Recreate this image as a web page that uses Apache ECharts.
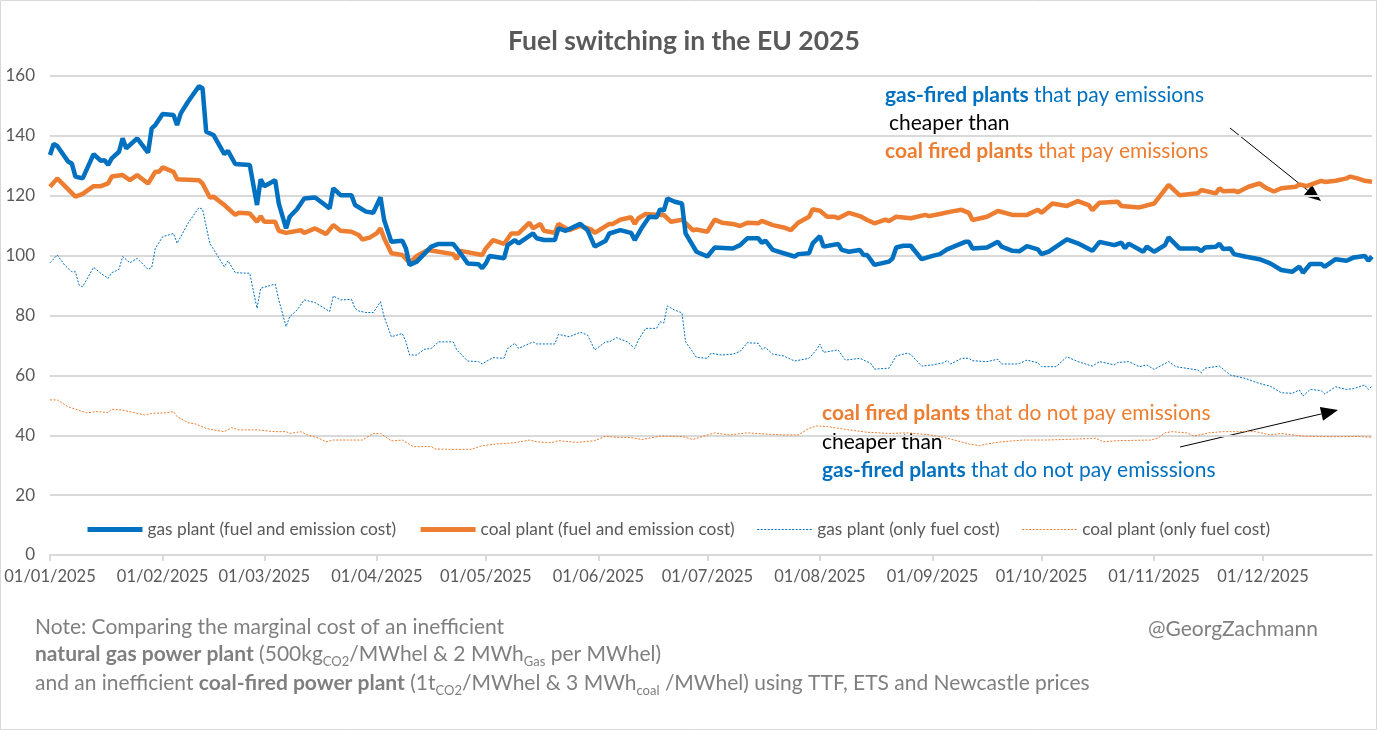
<!DOCTYPE html>
<html><head><meta charset="utf-8">
<script src="https://cdn.jsdelivr.net/npm/echarts@6/dist/echarts.min.js"></script>
<style>html,body{margin:0;padding:0;background:#fff}#c{width:1377px;height:730px}</style>
</head><body><div id="c"></div>
<script>
// x-axis tick labels (month starts)
const tickLabels = ['01/01/2025','01/02/2025','01/03/2025','01/04/2025','01/05/2025','01/06/2025','01/07/2025','01/08/2025','01/09/2025','01/10/2025','01/11/2025','01/12/2025'];
const legendNames = ['gas plant (fuel and emission cost)','coal plant (fuel and emission cost)','gas plant (only fuel cost)','coal plant (only fuel cost)'];
// [day of year offset from 01/01/2025, value]
const gasEmission = [[0,133.6],[1,137.3],[2,136.6],[5,131.4],[6,130.8],[7,126.4],[9,125.8],[12,133.9],[14,131.7],[15,131.9],[16,130.3],[17,132.5],[19,134.7],[20,139.2],[21,135.8],[24,139.2],[27,134.4],[28,142.5],[29,143.6],[31,147.3],[34,147],[35,143.6],[36,147.5],[38,151.4],[41,156.6],[42,155.9],[43,141.4],[45,140.3],[48,133.9],[49,135],[51,130.6],[55,130.3],[57,116.9],[58,125.5],[59,123.2],[62,125.2],[63,117.4],[65,109.1],[66,113],[68,115.5],[70,119.1],[73,119.4],[77,115.8],[78,122.5],[80,120.2],[83,120.2],[84,116.9],[87,114.7],[89,114.3],[91,119.5],[92,111.9],[94,104.6],[97,105],[98,102.4],[99,96.9],[101,98],[103,100.5],[105,103],[107,103.9],[111,103.9],[113,100.8],[115,97.4],[118,97.1],[119,95.8],[120,97.4],[121,99.9],[125,99.1],[126,103.5],[128,105.2],[129,104.1],[133,107.4],[134,105.8],[136,105.2],[139,105.2],[140,109.1],[142,108.3],[146,110.6],[148,108.5],[150,103],[153,105],[154,107.4],[157,108.5],[160,107.6],[161,105.2],[163,109.4],[165,113],[167,112.8],[168,115.5],[169,115],[170,119.1],[172,118],[174,117.4],[175,107.4],[178,101.3],[181,99.7],[183,102.7],[188,102.4],[190,103.5],[192,105.8],[195,105.8],[196,104.3],[197,105],[199,101.9],[202,100.8],[205,99.7],[206,100.5],[209,100.8],[210,104.1],[212,106.5],[213,103],[217,103.9],[218,101.9],[220,101.3],[223,101.9],[224,100.2],[225,100.2],[227,96.9],[231,98],[232,99.1],[233,102.7],[235,103.3],[237,103.3],[240,98.8],[243,99.9],[245,100.5],[247,102.1],[252,104.6],[253,104.6],[254,102.4],[258,102.7],[261,104.6],[262,103],[265,101.6],[267,101.5],[269,103.2],[272,102.1],[273,100.5],[275,101.3],[280,105.4],[283,104.1],[287,101.6],[289,104.6],[293,103.5],[295,104.3],[296,102.5],[297,104],[301,101.3],[302,103],[304,101.3],[307,103.5],[308,106.1],[311,102.4],[316,102.4],[317,101.5],[318,102.7],[321,103],[322,104],[323,102.2],[325,102.4],[326,100.5],[329,99.7],[333,98.8],[336,97.4],[339,95.2],[342,94.6],[344,96.3],[345,94.3],[347,97.2],[350,97.2],[351,96.3],[354,98.8],[357,98.3],[359,99.4],[362,99.9],[363,98.3],[364,99.7]];
const coalEmission = [[0,123],[2,125.8],[7,119.7],[9,120.6],[12,123.2],[14,123.2],[16,124.1],[17,126.4],[20,126.9],[22,125.2],[24,126.9],[27,124.1],[29,128],[30,128],[31,129.5],[34,128],[35,125.5],[41,125.2],[42,124.1],[44,119.4],[45,119.7],[48,116.9],[51,113.6],[52,114.3],[55,114.1],[57,111.3],[58,113.2],[59,111.3],[62,111.3],[63,108.3],[65,107.6],[69,108.5],[70,107.6],[73,109.1],[76,107.2],[78,110.2],[80,108.3],[83,108],[85,106.9],[86,105.4],[88,106],[90,107.5],[91,109.1],[92,105.8],[94,100.8],[97,100.2],[99,97.6],[101,99.9],[104,101.9],[107,101.3],[111,100.5],[112,98.8],[113,101.6],[119,100.2],[120,102.4],[122,105.2],[125,103.9],[127,107.4],[129,107.4],[132,111],[133,109.1],[135,110.6],[136,108.3],[139,107.6],[140,110.6],[143,108.5],[146,109.9],[149,108.8],[150,107.6],[154,110.6],[155,110.6],[157,112],[160,112.8],[161,110.6],[162,112.5],[164,113.9],[168,113.6],[169,113.6],[171,111.3],[174,112],[177,108.5],[178,108.7],[181,108],[183,112],[185,111],[188,110.6],[190,109.9],[192,111],[195,110.8],[196,111.6],[199,110.2],[202,109.4],[204,108.5],[206,111],[209,113],[210,115.5],[212,115],[214,113],[216,113],[217,112.5],[220,114.3],[223,113.2],[225,111.9],[227,110.8],[230,112],[231,111.5],[233,113],[237,112.5],[241,113.6],[242,113.2],[245,113.9],[248,114.7],[251,115.3],[253,114.3],[254,111.9],[258,113],[261,114.9],[265,113.6],[269,113.6],[272,115.3],[273,114.3],[276,117.4],[280,116.6],[283,118.2],[286,116.9],[287,115.2],[289,117.7],[294,118],[295,116.6],[300,116.1],[304,117.4],[308,123.6],[311,120.2],[316,120.8],[317,121.9],[321,120.8],[322,122.5],[323,121.5],[326,121.7],[327,121.2],[330,123],[333,124.1],[335,122.5],[337,121.4],[339,122.5],[343,123],[344,123.8],[346,123.2],[350,125],[351,124.6],[354,125],[357,125.8],[358,126.4],[360,125.8],[362,125],[364,124.7]];
const gasFuel = [[0,97.6],[2,100.2],[4,96.9],[6,94.6],[7,94.6],[8,90.2],[9,89.6],[12,96.1],[14,94.1],[16,92.4],[17,94.3],[19,95.4],[20,99.7],[22,97.6],[24,99.1],[27,95.4],[28,96],[29,102.4],[31,106.3],[34,107.4],[35,104.1],[38,110.8],[41,116],[42,115.5],[44,104.1],[48,96.3],[49,98.3],[51,94.3],[55,94.1],[57,82.4],[58,89.1],[62,90.5],[63,85.2],[65,76.3],[66,79.6],[68,81.8],[70,85.2],[73,84.3],[77,81.3],[78,86.5],[80,85.2],[83,85.4],[84,82.4],[85,81.5],[87,81],[89,81],[91,84.6],[92,79.6],[94,72.9],[97,74],[98,71.2],[99,66.8],[101,66.8],[103,68.7],[105,69],[107,71.2],[111,71.2],[112,68.5],[115,64.8],[118,64.6],[119,63.8],[120,64.6],[122,65.9],[125,65.7],[126,69],[128,70.7],[129,69],[133,71.2],[134,70.5],[139,70.5],[140,73.7],[143,72.9],[146,74.4],[148,73.5],[150,68.5],[153,71.2],[154,71.2],[156,72.6],[159,71.2],[161,69],[162,71.8],[164,75.7],[167,75.7],[168,77.9],[169,77.5],[170,83.2],[172,81.8],[174,80.9],[175,71.2],[176,69.5],[178,66],[181,65.7],[182,67.4],[185,66.8],[188,67.1],[190,68],[192,70.9],[195,70.7],[196,68.7],[197,69.3],[199,67.1],[202,66.5],[205,64.8],[209,65.7],[211,68.5],[212,70.4],[213,67.7],[217,68.5],[219,65.1],[223,65.7],[226,64],[227,62.1],[231,62.4],[233,66.5],[236,67.4],[237,67],[240,63.1],[243,63.5],[246,64.2],[247,65],[248,63.8],[251,65.7],[253,65.7],[254,64.9],[258,64.6],[261,65.4],[262,63.8],[266,63.8],[267,64],[269,65.1],[272,64.2],[273,62.9],[277,62.9],[280,66.2],[283,64.6],[287,63.1],[289,64.6],[293,63.5],[294,64.3],[297,64.6],[300,62.9],[302,63.5],[304,62],[308,64.6],[310,62.9],[316,61.8],[317,60.9],[318,62.4],[322,63.1],[325,60.1],[329,59],[333,57.3],[336,56.4],[339,54.2],[342,54],[344,55.1],[345,53.1],[347,55.3],[350,54.9],[351,53.8],[354,56.2],[357,55.3],[359,55.6],[362,56.8],[363,55.3],[364,56.4]];
const coalFuel = [[0,51.8],[2,51.8],[5,49.5],[7,48.7],[10,47.5],[13,47.9],[16,47.6],[17,48.7],[20,48.4],[24,47.3],[26,46.8],[28,47.3],[32,47.5],[34,47.9],[35,46.2],[38,44.2],[40,43.8],[43,42.3],[45,41.8],[48,41.2],[50,42.5],[52,41.8],[57,41.8],[62,41.2],[65,41.2],[66,40.6],[69,41.2],[71,40.1],[74,39],[76,37.8],[78,38.4],[86,38.4],[89,40.6],[91,40.6],[94,38.1],[97,38.4],[100,36.2],[105,36.2],[106,35.4],[110,35.3],[116,35.3],[119,36.5],[123,37.1],[128,37.5],[132,38.4],[134,37.8],[138,37.5],[140,38.2],[145,37.6],[150,38.2],[153,39.7],[156,39.3],[160,39.2],[163,38.6],[168,39.7],[174,39.6],[177,38.6],[180,39.7],[183,40.8],[187,40.1],[192,40.8],[197,40.4],[202,40.1],[206,40.1],[209,42.3],[211,43.1],[214,42.9],[220,41.8],[225,41],[231,40.6],[236,40.8],[242,40.2],[246,39.3],[249,38.4],[253,37.1],[256,36.5],[258,37.1],[262,37.8],[268,38.4],[274,38.4],[280,38.6],[288,39],[290,37.8],[294,38.2],[303,38.4],[305,39],[307,40.8],[309,41.2],[313,40.8],[315,39.7],[319,40.8],[323,41.2],[329,41.2],[332,41.2],[336,40.1],[339,40.6],[345,39.7],[353,39.5],[360,39.6],[364,39.3]];

const BLUE = '#0070C0', ORANGE = '#ED7D31', GREY = '#595959', NOTE = '#7F7F7F';
const FONT = 'Lato, "Open Sans", sans-serif';
// day-of-year of each month start (from the calendar)
const monthTicks = tickLabels.map((_, i) => Math.round((Date.UTC(2025, i, 1) - Date.UTC(2025, 0, 1)) / 86400000));

const chart = echarts.init(document.getElementById('c'), null, {renderer: 'canvas'});
const NS = 21;
const noteRich = {
  n: {fontSize: NS, fontFamily: FONT, fill: NOTE, lineHeight: 28},
  b: {fontSize: NS, fontFamily: FONT, fill: NOTE, fontWeight: 'bold', lineHeight: 28},
  s: {fontSize: 13, fontFamily: FONT, fill: NOTE, verticalAlign: 'bottom', lineHeight: 28}
};
const AS = 21;
function annot(x, y, parts) {
  return {type: 'text', left: x, top: y, style: {text: parts, rich: {
    bb: {fontSize: AS, fontFamily: FONT, fontWeight: 'bold', fill: BLUE},
    bn: {fontSize: AS, fontFamily: FONT, fill: BLUE},
    ob: {fontSize: AS, fontFamily: FONT, fontWeight: 'bold', fill: ORANGE},
    on: {fontSize: AS, fontFamily: FONT, fill: ORANGE},
    k: {fontSize: AS, fontFamily: FONT, fill: '#000'}
  }}};
}
function arrow(x1, y1, x2, y2) {
  const a = Math.atan2(y2 - y1, x2 - x1), L = 17, W = 7;
  const bx = x2 - L * Math.cos(a), by = y2 - L * Math.sin(a);
  const px = -Math.sin(a) * W, py = Math.cos(a) * W;
  return [
    {type: 'line', shape: {x1, y1, x2: bx, y2: by}, style: {stroke: '#000', lineWidth: 1}},
    {type: 'polygon', shape: {points: [[x2, y2], [bx + px, by + py], [bx - px, by - py]]}, style: {fill: '#000'}}
  ];
}

chart.setOption({
  animation: false,
  backgroundColor: '#fff',
  title: {text: 'Fuel switching in the EU 2025', left: 503, top: 23,
    textStyle: {fontFamily: FONT, fontSize: 26.5, fontWeight: 'bold', color: GREY}},
  grid: {left: 50, right: 5, top: 76, bottom: 175, containLabel: false},
  legend: {
    data: [
      {name: legendNames[0], itemStyle: {opacity: 0}, lineStyle: {width: 5}},
      {name: legendNames[1], itemStyle: {opacity: 0}, lineStyle: {width: 5}},
      {name: legendNames[2], itemStyle: {opacity: 0}, lineStyle: {width: 1}},
      {name: legendNames[3], itemStyle: {opacity: 0}, lineStyle: {width: 1}}
    ],
    left: 80, top: 516, itemWidth: 55, itemHeight: 14, itemGap: 22,
    textStyle: {fontFamily: FONT, fontSize: 17.3, color: GREY}
  },
  xAxis: {
    type: 'value', min: 0, max: 364,
    axisLine: {lineStyle: {color: '#d9d9d9', width: 2}},
    axisTick: {show: true, length: 6, lineStyle: {color: '#d9d9d9', width: 2}, customValues: monthTicks},
    axisLabel: {customValues: monthTicks, fontFamily: FONT, fontSize: 16.5, color: GREY, margin: 13,
      formatter: v => tickLabels[monthTicks.indexOf(Math.round(v))] || ''},
    splitLine: {show: false}
  },
  yAxis: {
    type: 'value', min: 0, max: 160, interval: 20,
    axisLine: {show: false}, axisTick: {show: false},
    axisLabel: {fontFamily: FONT, fontSize: 17, color: GREY, margin: 15},
    splitLine: {lineStyle: {color: '#d9d9d9', width: 2}}
  },
  series: [
    {name: legendNames[0], type: 'line', data: gasEmission, showSymbol: false, symbol: 'none',
      lineStyle: {color: BLUE, width: 4.5}, itemStyle: {color: BLUE}, z: 4},
    {name: legendNames[1], type: 'line', data: coalEmission, showSymbol: false, symbol: 'none',
      lineStyle: {color: ORANGE, width: 4.5}, itemStyle: {color: ORANGE}, z: 3},
    {name: legendNames[2], type: 'line', data: gasFuel, showSymbol: false, symbol: 'none',
      lineStyle: {color: BLUE, width: 1, type: [2, 1.5]}, itemStyle: {color: BLUE}, z: 2},
    {name: legendNames[3], type: 'line', data: coalFuel, showSymbol: false, symbol: 'none',
      lineStyle: {color: ORANGE, width: 1, type: [2, 1.5]}, itemStyle: {color: ORANGE}, z: 2}
  ],
  graphic: [
    {type: 'rect', shape: {x: 0.5, y: 0.5, width: 1376, height: 729}, style: {fill: 'none', stroke: '#d9d9d9', lineWidth: 1}, z: 100},
    annot(885, 85, '{bb|gas-fired plants}{bn| that pay emissions}'),
    annot(889, 113, '{k|cheaper than}'),
    annot(885, 141, '{ob|coal fired plants}{on| that pay emissions}'),
    annot(822, 403, '{ob|coal fired plants}{on| that do not pay emissions}'),
    annot(822, 432, '{k|cheaper than}'),
    annot(822, 460, '{bb|gas-fired plants}{bn| that do not pay emisssions}'),
    ...arrow(1230, 128, 1321, 201),
    ...arrow(1180, 447, 1338, 410),
    {type: 'text', left: 35, top: 617, style: {text: '{n|Note: Comparing the marginal cost of an inefficient}', rich: noteRich}},
    {type: 'text', left: 35, top: 644, style: {text: '{b|natural gas power plant}{n| (500kg}{s|CO2}{n|/MWhel & 2 MWh}{s|Gas}{n| per MWhel)}', rich: noteRich}},
    {type: 'text', left: 35, top: 673, style: {text: '{n|and an inefficient }{b|coal-fired power plant}{n| (1t}{s|CO2}{n|/MWhel & 3 MWh}{s|coal}{n| /MWhel) using TTF, ETS and Newcastle prices}', rich: noteRich}},
    {type: 'text', left: 1148, top: 619, style: {text: '@GeorgZachmann', fontFamily: FONT, fontSize: NS, fill: NOTE}}
  ]
});
</script></body></html>
